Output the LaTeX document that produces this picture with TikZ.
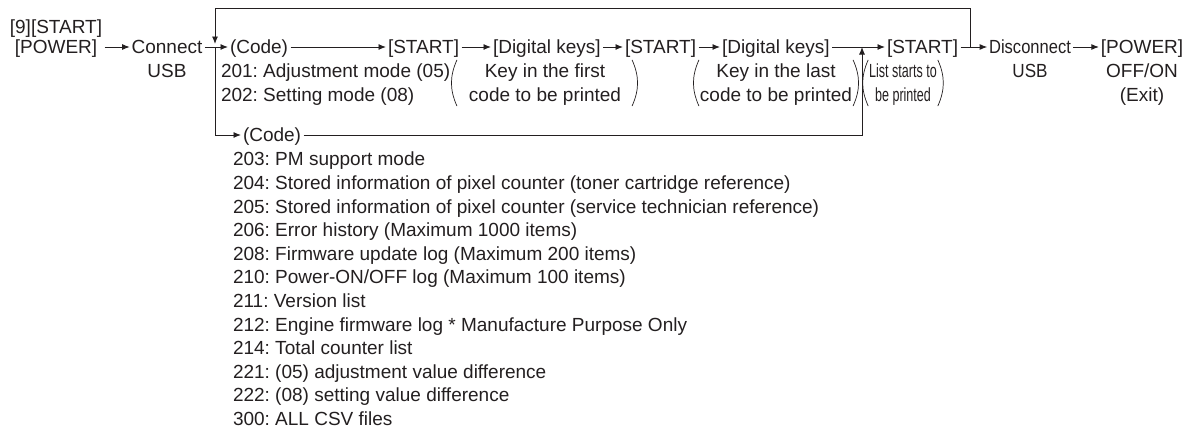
\documentclass[tikz,border=0pt]{standalone}
\usepackage{fontspec}
\usepackage{graphicx}
\setmainfont{Liberation Sans}
\usetikzlibrary{arrows.meta}
\definecolor{ink}{HTML}{231F20}
\newcommand\ms{\strut}
\newcommand\cnd[2]{\scalebox{#1}[1]{#2}}
\frenchspacing
\begin{document}
\begin{tikzpicture}[x=1pt,y=-1pt,
  font=\fontsize{19}{23.6}\selectfont\frenchspacing, color=ink,
  lbl/.style={inner sep=0pt, outer sep=0pt, text height=13.6pt, text depth=0pt},
  ml/.style={inner sep=0pt, outer sep=0pt, anchor=north, yshift=9.72pt, align=center},
  lst/.style={inner sep=0pt, outer sep=0pt, anchor=north west, yshift=9.72pt, align=left},
  arr/.style={line width=0.9pt, -{Latex[length=7.5pt,width=6pt]}, shorten >=2pt, shorten <=2.5pt},
  paren/.style={line width=0.7pt}]
\useasboundingbox (0,0) rectangle (1197,431);
% rows
\coordinate (r0) at (0,47);
\coordinate (top) at (0,8);
\coordinate (jl) at (215,47);
\coordinate (jr) at (970,47);
\coordinate (ju) at (862,47);
\coordinate (ltip) at (215,44);
% main row
\node[ml] (pw) at (56,26.5) {\ms [9][START]\\[-3.1pt]\ms [POWER]};
\node[ml] (con) at (167,47) {\ms Connect\\\ms USB};
\node[lbl, anchor=west] (code1) at (230,47) {(Code)};
\node[lst] (l1) at (221,70.6) {\ms 201: Adjustment mode (05)\\\ms 202: Setting mode (08)};
\node[lbl, anchor=west] (s1) at (388,47) {[START]};
\node[lbl, anchor=west] (d1) at (493,47) {[Digital keys]};
\node[lbl, anchor=west] (s2) at (625,47) {[START]};
\node[lbl, anchor=west] (d2) at (722,47) {[Digital keys]};
\node[lbl, anchor=west] (s3) at (887,47) {[START]};
\node[ml] (dc) at (1030,47) {\ms\cnd{0.87}{Disconnect}\\\ms\cnd{0.9}{USB}};
\node[ml] (po) at (1142,47) {\ms [POWER]\\\ms OFF/ON\\\ms (Exit)};
\node[ml] (g1) at (545,70.6) {\ms Key in the first\\\ms code to be printed};
\node[ml] (g2) at (776,70.6) {\ms Key in the last\\\ms code to be printed};
\node[ml] (g3) at (903,70.6) {\ms\cnd{0.66}{List starts to}\\\ms\cnd{0.66}{be printed}};
% lower branch
\node[lbl, anchor=west] (code2) at (243,135) {(Code)};
\node[lst] (l2) at (233,159) {\ms 203: PM support mode\\
\ms 204: Stored information of pixel counter (toner cartridge reference)\\
\ms 205: Stored information of pixel counter (service technician reference)\\
\ms 206: Error history (Maximum 1000 items)\\
\ms 208: Firmware update log (Maximum 200 items)\\
\ms 210: Power-ON/OFF log (Maximum 100 items)\\
\ms 211: Version list\\
\ms 212: Engine firmware log * Manufacture Purpose Only\\
\ms 214: Total counter list\\
\ms 221: (05) adjustment value difference\\
\ms 222: (08) setting value difference\\
\ms 300: ALL CSV files};
% connectors
\draw[arr] (pw.east |- r0) -- (con.west |- r0);
\draw[arr] (con.east |- r0) -- (code1.west);
\draw[arr] (code1.east) -- (s1.west);
\draw[arr] (s1.east) -- (d1.west);
\draw[arr] (d1.east) -- (s2.west);
\draw[arr] (s2.east) -- (d2.west);
\draw[arr] (d2.east) -- (s3.west);
\draw[arr] (s3.east) -- (dc.west |- r0);
\draw[arr] (dc.east |- r0) -- (po.west |- r0);
\draw[arr, shorten <=0pt, shorten >=0pt] (jr) -- (jr |- top) -- (jl |- top) -- (ltip);
\draw[arr, shorten <=0pt] (jl) |- (code2.west);
\draw[arr, shorten >=0pt] (code2.east) -| (ju);
% parentheses
\foreach \n/\l/\r in {g1/12/11,g2/1/1,g3/1/1}{
  \draw[paren] ([xshift=-\l pt, yshift=1pt]\n.north west) to[bend right=24] ([xshift=-\l pt, yshift=2pt]\n.south west);
  \draw[paren] ([xshift=\r pt, yshift=1pt]\n.north east) to[bend left=24] ([xshift=\r pt, yshift=2pt]\n.south east);
}
\end{tikzpicture}
\end{document}
